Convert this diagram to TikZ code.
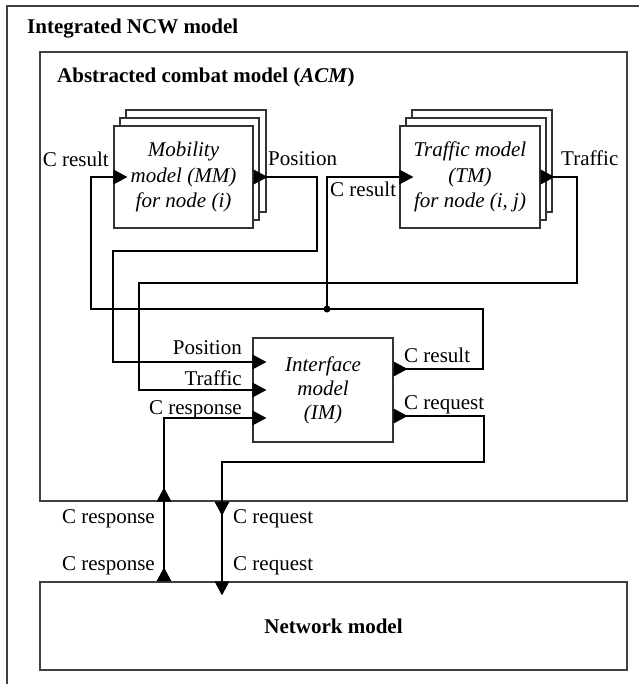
\documentclass[tikz,border=0pt]{standalone}
\usepackage{fontspec}
\setmainfont{Liberation Serif}
\usetikzlibrary{calc}
\begin{document}
\begin{tikzpicture}[x=1pt,y=-1pt,
  every node/.style={inner sep=0pt, font=\fontsize{21}{25.5}\selectfont},
  frame/.style={draw=black!75, line width=1.3pt},
  box/.style={draw=black!80, line width=1.2pt, fill=white},
  model/.style={box, align=center, font=\fontsize{21}{25.5}\selectfont\itshape},
  conn/.style={draw=black, line width=1.1pt},
  tri/.pic={\fill[black] (0,-7.5) -- (14,0) -- (0,7.5) -- cycle;}]
\useasboundingbox (0,0) rectangle (638,684);

% outer frame (cut off at right and bottom)
\draw[frame] (7,690) -- (7,6) -- (645,6);
\node[anchor=base west, font=\fontsize{21}{24}\selectfont\bfseries] (t1) at (27,34) {Integrated NCW model};

% ACM frame
\node[frame, minimum width=587pt, minimum height=449pt] (acm) at (333.5,276.5) {};
\node[anchor=base west, font=\fontsize{21}{24}\selectfont\bfseries] (t2) at (57,83) {Abstracted combat model (\textit{ACM})};

% Mobility model stack
\draw[box] (126,110) rectangle (266,212);
\draw[box] (120,118) rectangle (259,220);
\node[model, minimum width=139pt, minimum height=102pt] (mm) at (183.5,177) {Mobility\\model (MM)\\for node (i)};

% Traffic model stack
\draw[box] (412,110) rectangle (552,212);
\draw[box] (406,118) rectangle (546,220);
\node[model, minimum width=140pt, minimum height=102pt] (tm) at (470,177) {Traffic model\\(TM)\\for node (i, j)};

% Interface model
\node[model, font=\fontsize{21}{24}\selectfont\itshape, minimum width=140pt, minimum height=104pt] (im) at (323,390) {Interface\\model\\(IM)};

% Network model
\node[frame, minimum width=587pt, minimum height=88pt, font=\fontsize{21}{24}\selectfont\bfseries] (net) at (333.5,626) {Network model};

% ports
\coordinate (imPos) at ($(im.west)+(0,-28)$);
\coordinate (imTra) at (im.west);
\coordinate (imResp) at ($(im.west)+(0,28)$);
\coordinate (imRes) at ($(im.east)+(0,-21)$);
\coordinate (imReq) at ($(im.east)+(0,26)$);
\coordinate (respx) at (164,0);
\coordinate (reqx) at (222,0);
\coordinate (junc) at (327,309);

% C result loop
\draw[conn] (imRes) -| (483,309) -- (91,309) |- (mm.west);
\draw[conn] (junc) |- (tm.west);
\fill (junc) circle (3.5pt);
% Position
\draw[conn] (mm.east) -| (317,251) -- (113,251) |- (imPos);
% Traffic
\draw[conn] (tm.east) -| (577,283) -- (139,283) |- (imTra);
% C response
\draw[conn] (respx |- net.north) |- (imResp);
% C request
\draw[conn] (imReq) -| (484,462) -| (reqx |- net.north);

% arrowheads
\pic at (mm.west) {tri};
\pic at (tm.west) {tri};
\pic at (mm.east) {tri};
\pic at (tm.east) {tri};
\pic at (imPos) {tri};
\pic at (imTra) {tri};
\pic at (imResp) {tri};
\pic at (imRes) {tri};
\pic at (imReq) {tri};
\pic[rotate=90] at (respx |- acm.south) {tri};
\pic[rotate=90] at (respx |- net.north) {tri};
\pic[rotate=-90] at (reqx |- acm.south) {tri};
\pic[rotate=-90] at (reqx |- net.north) {tri};

% labels
\node[anchor=base east] (l1) at (109,167) {C result};
\node[anchor=base west] (l2) at (268,166) {Position};
\node[anchor=base west] (l3) at (330,197) {C result};
\node[anchor=base west] (l4) at (561,166) {Traffic};
\node[anchor=base east] (l5) at (242,354) {Position};
\node[anchor=base east] (l6) at (242,385) {Traffic};
\node[anchor=base east] (l7) at (242,414) {C response};
\node[anchor=base west] (l8) at (404,362) {C result};
\node[anchor=base west] (l9) at (404,409) {C request};
\node[anchor=base east] (l10) at (155,523) {C response};
\node[anchor=base east] (l11) at (155,570) {C response};
\node[anchor=base west] (l12) at (233,523) {C request};
\node[anchor=base west] (l13) at (233,570) {C request};
\end{tikzpicture}
\end{document}
